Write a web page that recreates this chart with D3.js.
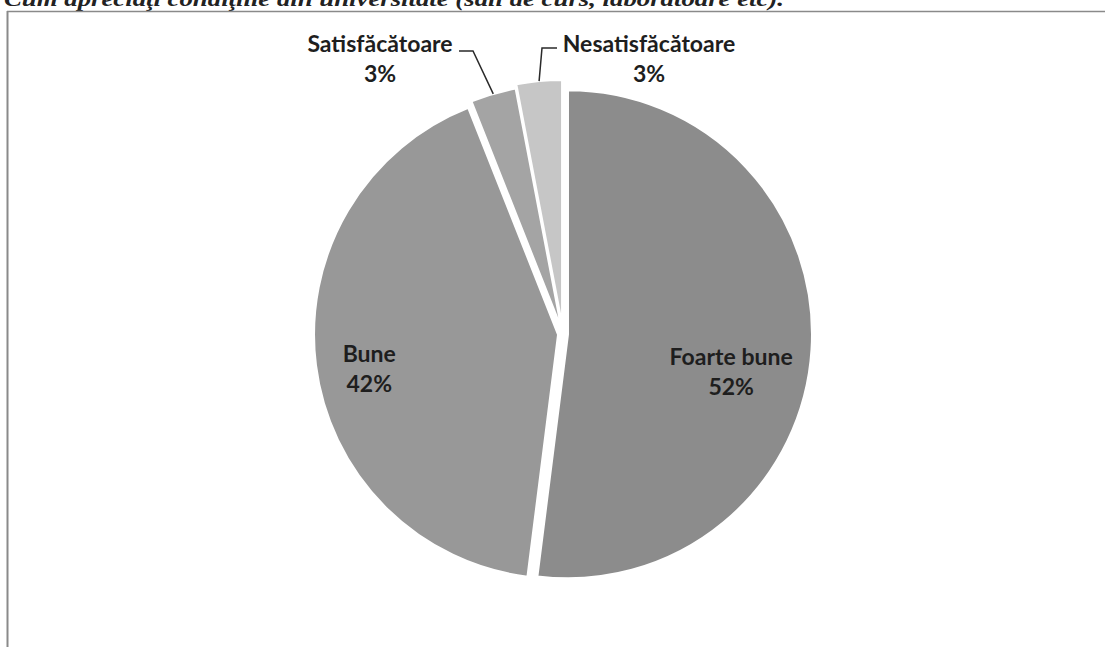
<!DOCTYPE html>
<html>
<head>
<meta charset="utf-8">
<script src="https://cdn.jsdelivr.net/npm/d3@7"></script>
<style>
  html, body { margin: 0; padding: 0; background: #fff; }
  svg { display: block; }
</style>
</head>
<body>
<script>
const titleText = "Cum apreciaţi condiţiile din universitate (săli de curs, laboratoare etc).";
const categories = ["Foarte bune", "Bune", "Satisfăcătoare", "Nesatisfăcătoare"];
const values = [52, 42, 3, 3];
const percentLabels = ["52%", "42%", "3%", "3%"];

const W = 1105, H = 647;
const svg = d3.select("body").append("svg").attr("width", W).attr("height", H);

// title (cut off at top as in the scan)
svg.append("text")
  .attr("x", 4).attr("y", 6)
  .attr("font-family", "Liberation Serif, Times New Roman, serif")
  .attr("font-style", "italic")
  .attr("font-weight", "bold")
  .attr("font-size", 22)
  .attr("textLength", 780)
  .attr("lengthAdjust", "spacingAndGlyphs")
  .attr("fill", "#222")
  .text(titleText);

// frame
svg.append("line").attr("x1", 7).attr("x2", W).attr("y1", 11.5).attr("y2", 11.5)
  .attr("stroke", "#8a8a8a").attr("stroke-width", 1.5);
svg.append("line").attr("x1", 7.5).attr("x2", 7.5).attr("y1", 11).attr("y2", H)
  .attr("stroke", "#8a8a8a").attr("stroke-width", 2);

const cx = 563, cy = 334, R = 244;
const colors = ["#8c8c8c", "#989898", "#a4a4a4", "#c6c6c6"];
const explode = [5, 5, 6, 10];

const pie = d3.pie().sort(null).value(d => d)(values);
const arc = d3.arc().innerRadius(0).outerRadius(R);

const g = svg.append("g").attr("transform", `translate(${cx},${cy})`);

function offsetOf(d, i) {
  const a = (d.startAngle + d.endAngle) / 2;
  return [explode[i] * Math.sin(a), -explode[i] * Math.cos(a)];
}

g.selectAll("path.slice").data(pie).join("path")
  .attr("class", "slice")
  .attr("d", arc)
  .attr("transform", (d, i) => { const o = offsetOf(d, i); return `translate(${o[0]},${o[1]})`; })
  .attr("fill", (d, i) => colors[i])
  .attr("stroke", "#fff")
  .attr("stroke-width", 2)
  .attr("stroke-linejoin", "round");

const labelFont = "Lato, Carlito, Calibri, sans-serif";
const labelSize = 23;

// inside labels (polar position from slice bisector)
const insideSpec = { 0: { rf: 0.67, dy: 27 }, 1: { rf: 0.78, dy: 11 } };
pie.forEach((d, i) => {
  if (!insideSpec[i]) return;
  const a = (d.startAngle + d.endAngle) / 2;
  const o = offsetOf(d, i);
  const r = R * insideSpec[i].rf;
  const x = o[0] + r * Math.sin(a);
  const y = o[1] - r * Math.cos(a) + insideSpec[i].dy;
  const t = g.append("text")
    .attr("text-anchor", "middle")
    .attr("font-family", labelFont)
    .attr("font-weight", "bold")
    .attr("font-size", labelSize)
    .attr("fill", "#1e1e1e");
  t.append("tspan").attr("x", x).attr("y", y - 7).text(categories[i]);
  t.append("tspan").attr("x", x).attr("y", y + 23).text(percentLabels[i]);
});

// outside labels with leader lines
const outsideSpec = {
  2: { lx: -183, ly: -282, bend: [-90, -283], end: [-104, -283], anchor: "middle" },
  3: { lx: 86, ly: -282, bend: [-21, -286], end: [-6, -286], anchor: "middle" }
};
pie.forEach((d, i) => {
  const s = outsideSpec[i];
  if (!s) return;
  const a = (d.startAngle + d.endAngle) / 2;
  const o = offsetOf(d, i);
  const px = o[0] + R * Math.sin(a);
  const py = o[1] - R * Math.cos(a);
  g.append("path")
    .attr("d", d3.line()([[px, py], s.bend, s.end]))
    .attr("fill", "none")
    .attr("stroke", "#2a2a2a")
    .attr("stroke-width", 1.5);
  const t = g.append("text")
    .attr("text-anchor", s.anchor)
    .attr("font-family", labelFont)
    .attr("font-weight", "bold")
    .attr("font-size", labelSize)
    .attr("fill", "#1e1e1e");
  t.append("tspan").attr("x", s.lx).attr("y", s.ly).text(categories[i]);
  t.append("tspan").attr("x", s.lx).attr("y", s.ly + 30).text(percentLabels[i]);
});
</script>
</body>
</html>
